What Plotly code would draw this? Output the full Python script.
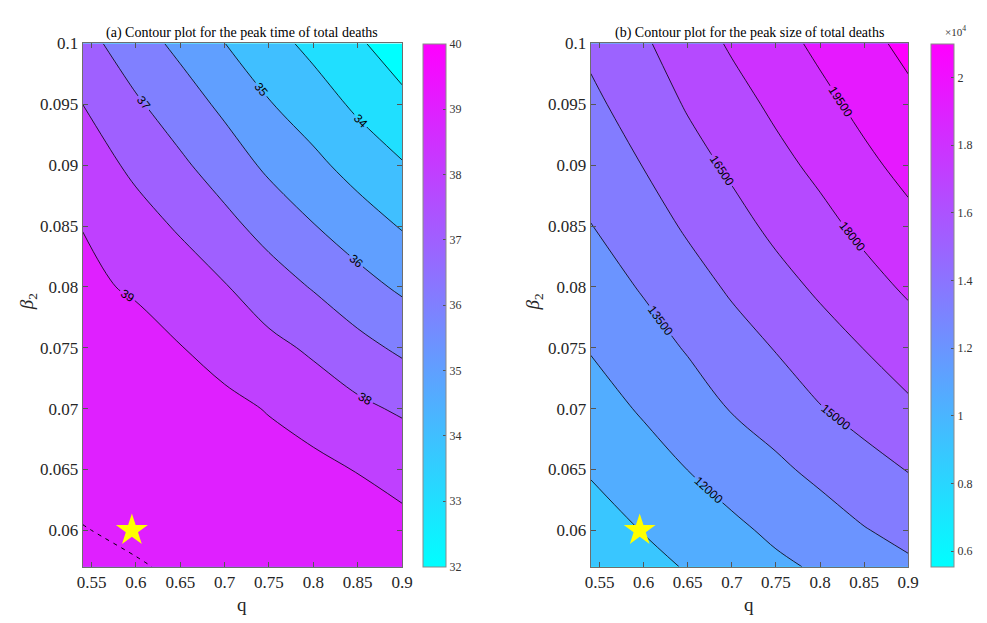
import plotly.graph_objects as go

# grid of the two model parameters
q_vals = [0.54, 0.6, 0.65, 0.7, 0.75, 0.8, 0.85, 0.9]
beta2_vals = [0.057, 0.06, 0.065, 0.07, 0.075, 0.08, 0.085, 0.09, 0.095, 0.1]

# peak time of total deaths (days): one row per beta2 value, one column per q value
peak_time = [
    [40.14, 40.04, 39.93, 39.75, 39.59, 39.45, 39.36, 39.28],
    [40.02, 39.90, 39.78, 39.62, 39.50, 39.38, 39.30, 39.20],
    [39.81, 39.73, 39.53, 39.45, 39.36, 39.26, 38.97, 38.75],
    [39.61, 39.56, 39.35, 39.22, 38.95, 38.55, 38.21, 37.86],
    [39.41, 39.38, 39.03, 38.67, 38.25, 37.85, 37.30, 36.82],
    [39.20, 38.88, 38.49, 38.06, 37.47, 36.93, 36.35, 35.84],
    [38.98, 38.36, 37.89, 37.28, 36.64, 36.04, 35.48, 34.93],
    [38.49, 37.80, 37.17, 36.52, 35.81, 35.24, 34.62, 34.07],
    [38.00, 37.13, 36.48, 35.79, 35.06, 34.48, 33.82, 33.26],
    [37.35, 36.44, 35.76, 35.01, 34.36, 33.74, 33.14, 32.45],
]

# peak size of total deaths: one row per beta2 value, one column per q value
peak_size = [
    [9381, 10088, 10600, 11179, 11734, 12183, 12741, 13253],
    [9852, 10553, 11129, 11703, 12276, 12800, 13426, 13921],
    [10631, 11368, 12013, 12634, 13224, 13849, 14489, 15058],
    [11369, 12168, 12822, 13580, 14160, 14930, 15527, 16250],
    [12089, 12900, 13615, 14389, 15074, 15847, 16531, 17258],
    [12778, 13636, 14410, 15203, 15995, 16739, 17480, 18216],
    [13467, 14341, 15190, 15992, 16836, 17562, 18362, 19111],
    [14090, 15041, 15929, 16754, 17580, 18348, 19164, 19938],
    [14700, 15672, 16634, 17458, 18285, 19080, 19913, 20700],
    [15291, 16314, 17276, 18173, 18964, 19824, 20646, 21300],
]

# baseline parameter point
star_q = [0.5955]
star_beta2 = [0.06]

# contour levels and colour limits
time_levels = dict(start=32, end=39, size=1)
time_clim = [32, 40]
size_levels = dict(start=6000, end=21000, size=1500)
size_clim = [5540, 21000]

time_ticks = [32, 33, 34, 35, 36, 37, 38, 39, 40]
size_ticks = [6000, 8000, 10000, 12000, 14000, 16000, 18000, 20000]
size_ticktext = ["0.6", "0.8", "1", "1.2", "1.4", "1.6", "1.8", "2"]

x_ticks = [0.55, 0.6, 0.65, 0.7, 0.75, 0.8, 0.85, 0.9]
x_ticktext = ["0.55", "0.6", "0.65", "0.7", "0.75", "0.8", "0.85", "0.9"]
y_ticks = [0.06, 0.065, 0.07, 0.075, 0.08, 0.085, 0.09, 0.095, 0.1]
y_ticktext = ["0.06", "0.065", "0.07", "0.075", "0.08", "0.085", "0.09", "0.095", "0.1"]


def cool(t):
    t = min(max(t, 0.0), 1.0)
    return "rgb({},{},255)".format(round(255 * t), round(255 * (1 - t)))


def band_scale(levels, clim):
    """Flat band colours: each band takes the colour of its lower level."""
    start, end, step = levels["start"], levels["end"], levels["size"]
    lev = []
    v = start
    while v <= end + 1e-9:
        lev.append(v)
        v += step
    nc = len(lev)
    scale = [[0.0, cool(0.0)]]
    for j, L in enumerate(lev):
        scale.append([(j + 1) / nc, cool((L - clim[0]) / (clim[1] - clim[0]))])
    return scale


cool_scale = [[0.0, "rgb(0,255,255)"], [1.0, "rgb(255,0,255)"]]

SERIF = "Liberation Serif, Times New Roman, serif"
SANS = "Liberation Sans, Arial, sans-serif"
W, H = 987, 623

# plot-area geometry (pixels)
L1, R1 = 78, 403
L2, R2 = 595, 918
TOP, BOT = 35, 566
CB1, CB2 = 424, 941
CB_W = 23

fig = go.Figure()

label_font = dict(family=SANS, size=12, color="black")

fig.add_trace(go.Contour(
    x=q_vals, y=beta2_vals, z=peak_time,
    autocontour=False,
    contours=dict(coloring="fill", showlabels=True, labelfont=label_font,
                  labelformat="d", **time_levels),
    colorscale=band_scale(time_levels, time_clim),
    line=dict(color="black", width=0.8),
    showscale=False, hoverinfo="skip",
    xaxis="x", yaxis="y",
))
# level where the peak time reaches its maximum
fig.add_trace(go.Contour(
    x=q_vals, y=beta2_vals, z=peak_time,
    autocontour=False,
    contours=dict(coloring="none", start=40, end=40, size=1, showlabels=False),
    line=dict(color="black", width=1, dash="4px,5px"),
    showscale=False, hoverinfo="skip",
    xaxis="x", yaxis="y",
))
fig.add_trace(go.Contour(
    x=q_vals, y=beta2_vals, z=peak_size,
    autocontour=False,
    contours=dict(coloring="fill", showlabels=True, labelfont=label_font,
                  labelformat="d", **size_levels),
    colorscale=band_scale(size_levels, size_clim),
    line=dict(color="black", width=0.8),
    showscale=False, hoverinfo="skip",
    xaxis="x2", yaxis="y2",
))

cb_common = dict(
    thickness=CB_W, thicknessmode="pixels",
    len=(BOT - TOP) / H, lenmode="fraction",
    y=1 - (TOP + BOT) / 2 / H, yanchor="middle",
    xanchor="left", xpad=0, ypad=0,
    outlinecolor="#8a8a8a", outlinewidth=1,
    ticks="inside", ticklen=3, tickcolor="#555",
    tickfont=dict(family=SERIF, size=12, color="#333"),
)

fig.add_trace(go.Scatter(
    x=[0.7, 0.7], y=[0.08, 0.08], mode="markers",
    marker=dict(size=1, opacity=0, color=time_clim, cmin=time_clim[0], cmax=time_clim[1],
                colorscale=cool_scale, showscale=True,
                colorbar=dict(x=CB1 / W, tickvals=time_ticks, **cb_common)),
    hoverinfo="skip", showlegend=False, xaxis="x", yaxis="y",
))
fig.add_trace(go.Scatter(
    x=[0.7, 0.7], y=[0.08, 0.08], mode="markers",
    marker=dict(size=1, opacity=0, color=size_clim, cmin=size_clim[0], cmax=size_clim[1],
                colorscale=cool_scale, showscale=True,
                colorbar=dict(x=CB2 / W, tickvals=size_ticks, ticktext=size_ticktext, **cb_common)),
    hoverinfo="skip", showlegend=False, xaxis="x2", yaxis="y2",
))

for xa, ya in (("x", "y"), ("x2", "y2")):
    fig.add_trace(go.Scatter(
        x=star_q, y=star_beta2, mode="markers",
        marker=dict(symbol="star", size=24, color="#ffff00", line=dict(width=0)),
        hoverinfo="skip", showlegend=False, xaxis=xa, yaxis=ya,
    ))

axis_common = dict(
    showgrid=False, zeroline=False, showline=True, linecolor="#6e6e6e", linewidth=1,
    mirror="ticks", ticks="inside", ticklen=5, tickcolor="#555",
    tickfont=dict(family=SERIF, size=17, color="#262626"),
)

ydom = [1 - BOT / H, 1 - TOP / H]
fig.update_layout(
    width=W, height=H,
    margin=dict(l=0, r=0, t=0, b=0),
    paper_bgcolor="white", plot_bgcolor="white",
    showlegend=False,
    xaxis=dict(domain=[L1 / W, R1 / W], range=[0.54, 0.9], tickvals=x_ticks,
               ticktext=x_ticktext, anchor="y", **axis_common),
    yaxis=dict(domain=ydom, range=[0.057, 0.1], tickvals=y_ticks,
               ticktext=y_ticktext, anchor="x", **axis_common),
    xaxis2=dict(domain=[L2 / W, R2 / W], range=[0.54, 0.9], tickvals=x_ticks,
                ticktext=x_ticktext, anchor="y2", **axis_common),
    yaxis2=dict(domain=ydom, range=[0.057, 0.1], tickvals=y_ticks,
                ticktext=y_ticktext, anchor="x2", **axis_common),
)

title_font = dict(family=SERIF, size=14, color="black")
ann = [
    dict(text="(a) Contour plot for the peak time of total deaths",
         x=(L1 + R1) / 2 / W, y=1 - 24 / H, font=title_font),
    dict(text="(b) Contour plot for the peak size of total deaths",
         x=(L2 + R2) / 2 / W, y=1 - 24 / H, font=title_font),
    dict(text="q", x=(L1 + R1) / 2 / W, y=1 - 604 / H,
         font=dict(family=SERIF, size=19, color="#262626")),
    dict(text="q", x=(L2 + R2) / 2 / W, y=1 - 604 / H,
         font=dict(family=SERIF, size=19, color="#262626")),
    dict(text="<i>β</i><sub>2</sub>", x=22 / W, y=1 - 297 / H, textangle=-90,
         font=dict(family=SERIF, size=19, color="#262626")),
    dict(text="<i>β</i><sub>2</sub>", x=537 / W, y=1 - 297 / H, textangle=-90,
         font=dict(family=SERIF, size=19, color="#262626")),
    dict(text="×10<sup>4</sup>", x=966 / W, y=1 - 22 / H,
         font=dict(family=SERIF, size=11, color="#333")),
]
for a in ann:
    a.update(xref="paper", yref="paper", showarrow=False,
             xanchor="center", yanchor="middle")
fig.update_layout(annotations=ann)

fig.write_html("out.html")
